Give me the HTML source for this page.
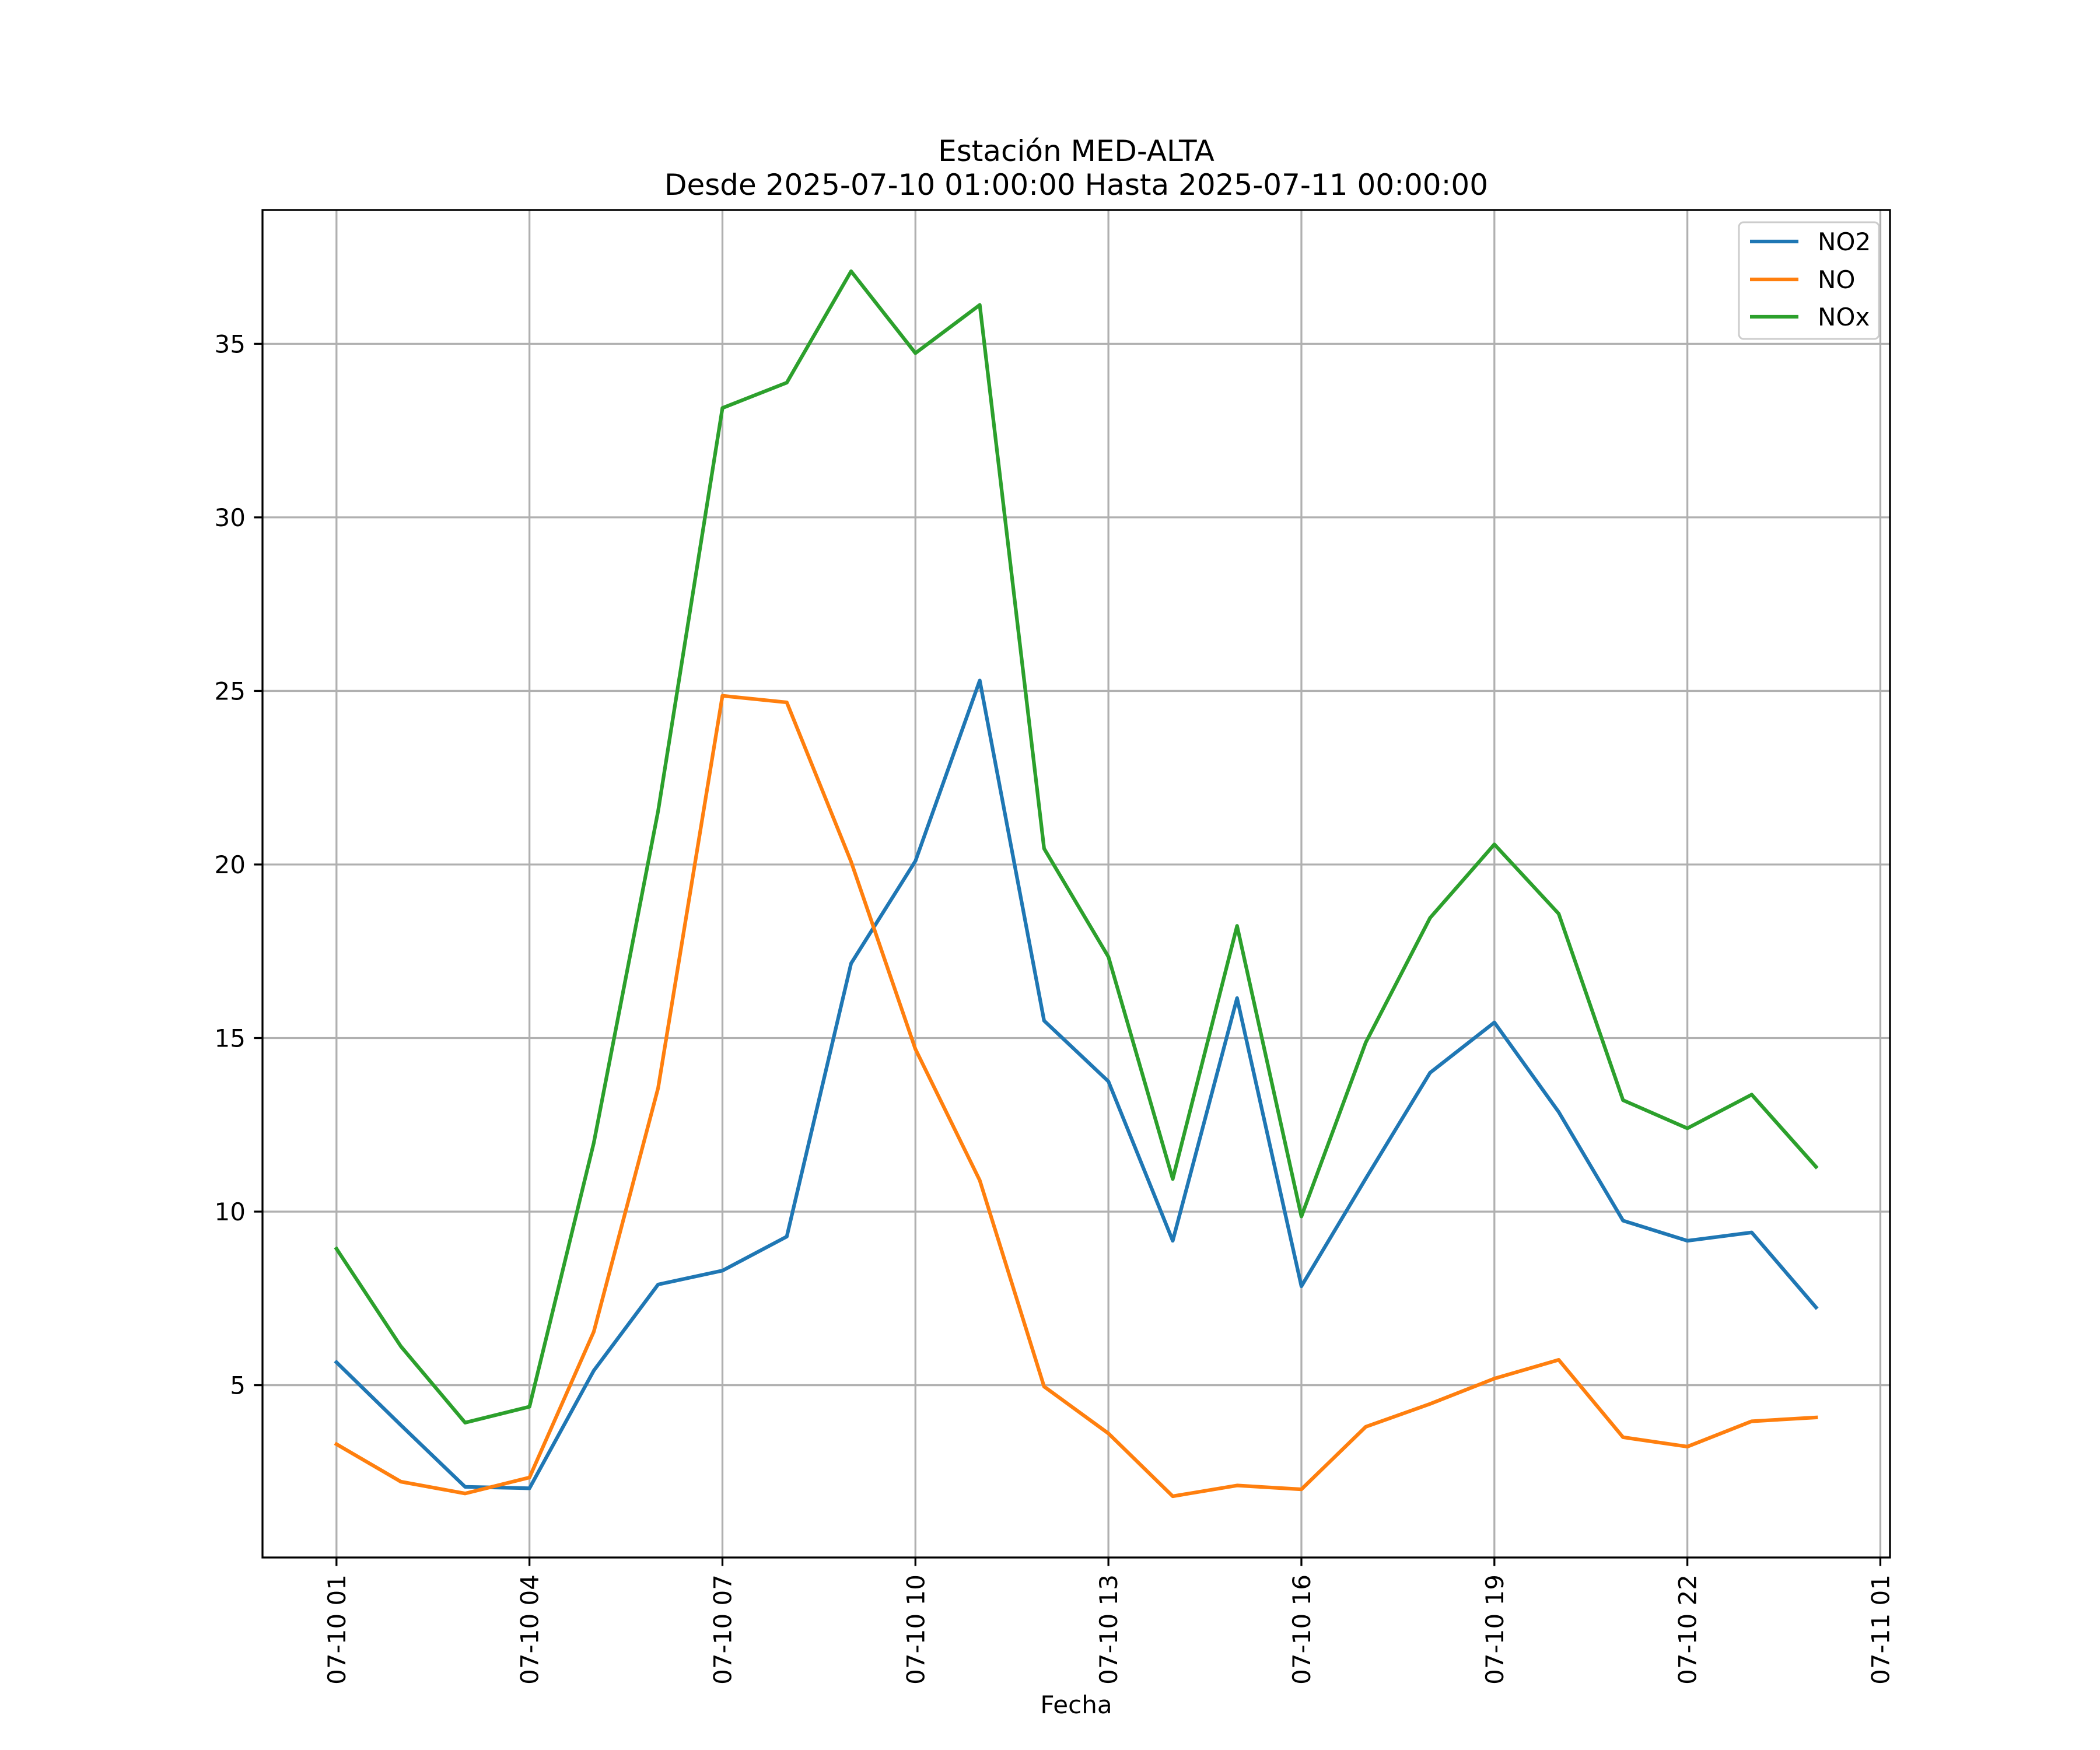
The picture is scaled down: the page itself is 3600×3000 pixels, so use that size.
<!DOCTYPE html>
<html><head><meta charset="utf-8"><style>
html,body{margin:0;padding:0;background:#fff;}
svg{display:block;font-family:"DejaVu Sans","Liberation Sans",sans-serif;}
</style></head><body>
<svg id="chart" width="3600" height="3000" viewBox="0 0 3600 3000" xmlns="http://www.w3.org/2000/svg">
<rect width="3600" height="3000" fill="#fff"/>
<text x="1845" y="276" font-size="50" text-anchor="middle">Estación MED-ALTA</text>
<text x="1845" y="334" font-size="50" text-anchor="middle">Desde 2025-07-10 01:00:00 Hasta 2025-07-11 00:00:00</text>
<g id="grid"></g>
<g id="series"></g>
<rect x="450" y="360" width="2790" height="2310" fill="none" stroke="#000" stroke-width="3.3"/>
<g id="ticks"></g>
<text x="1845" y="2937" font-size="42" text-anchor="middle">Fecha</text>
<g>
<rect x="2981" y="381" width="240" height="200" rx="8" fill="#fff" fill-opacity="0.8" stroke="#ccc" stroke-width="3"/>
<g><line x1="3000" y1="414" x2="3083" y2="414" stroke="#1f77b4" stroke-width="6.25"/><text x="3116" y="429" font-size="42">NO2</text></g>
<g><line x1="3000" y1="479" x2="3083" y2="479" stroke="#ff7f0e" stroke-width="6.25"/><text x="3116" y="494" font-size="42">NO</text></g>
<g><line x1="3000" y1="543" x2="3083" y2="543" stroke="#2ca02c" stroke-width="6.25"/><text x="3116" y="558" font-size="42">NOx</text></g>
</g>
</svg>
<script>
const hours = [1,2,3,4,5,6,7,8,9,10,11,12,13,14,15,16,17,18,19,20,21,22,23,24];
const no2 = [5.66,3.85,2.07,2.03,5.42,7.9,8.3,9.28,17.15,20.1,25.3,15.5,13.75,9.16,16.15,7.85,10.95,14.0,15.45,12.87,9.74,9.16,9.4,7.24];
const no = [3.3,2.22,1.88,2.34,6.54,13.56,24.86,24.67,20.08,14.68,10.9,4.96,3.61,1.8,2.11,2.0,3.8,4.46,5.19,5.73,3.5,3.23,3.96,4.07];
const nox = [8.93,6.12,3.92,4.38,11.98,21.54,33.15,33.88,37.09,34.73,36.12,20.46,17.34,10.94,18.23,9.86,14.87,18.46,20.58,18.58,13.21,12.4,13.37,11.29];
const yTicks = [5,10,15,20,25,30,35];
const xTickHours = [1,4,7,10,13,16,19,22,25];
const xTickLabels = ["07-10 01","07-10 04","07-10 07","07-10 10","07-10 13","07-10 16","07-10 19","07-10 22","07-11 01"];

const NS="http://www.w3.org/2000/svg";
const L=450,R=3240,T=360,B=2670;
const hMin=Math.min(...hours),hMax=Math.max(...hours),hm=(hMax-hMin)*0.05;
const all=no2.concat(no,nox);
const vMin=Math.min(...all),vMax=Math.max(...all),vm=(vMax-vMin)*0.05;
const x0=hMin-hm,x1=hMax+hm,y0=vMin-vm,y1=vMax+vm;
const X=h=>L+(h-x0)*(R-L)/(x1-x0);
const Y=v=>B-(v-y0)*(B-T)/(y1-y0);
function mk(tag,attrs,parent){const e=document.createElementNS(NS,tag);for(const k in attrs)e.setAttribute(k,attrs[k]);parent.appendChild(e);return e;}
const grid=document.getElementById('grid'),ticks=document.getElementById('ticks'),series=document.getElementById('series');
xTickHours.forEach((h,i)=>{
  const x=X(h);
  const g=mk('line',{x1:x,y1:T,x2:x,y2:B,stroke:'#b0b0b0','stroke-width':3.3},grid);
  
  
  const t=mk('line',{x1:x,y1:B,x2:x,y2:B+14.6,stroke:'#000','stroke-width':3.3},ticks);
  
  
  const lb=mk('text',{x:0,y:0,'font-size':42,'text-anchor':'end',transform:`translate(${x+15},${B+29}) rotate(-90)`},ticks);
  lb.textContent=xTickLabels[i];
  
  
});
yTicks.forEach(v=>{
  const y=Y(v);
  const g=mk('line',{x1:L,y1:y,x2:R,y2:y,stroke:'#b0b0b0','stroke-width':3.3},grid);
  
  
  const t=mk('line',{x1:L-14.6,y1:y,x2:L,y2:y,stroke:'#000','stroke-width':3.3},ticks);
  
  
  const lb=mk('text',{x:L-29,y:y+15,'font-size':42,'text-anchor':'end'},ticks);
  lb.textContent=v;
  
  
});
[[no2,'#1f77b4','line-no2'],[no,'#ff7f0e','line-no'],[nox,'#2ca02c','line-nox']].forEach(([d,c,n])=>{
  const p=mk('polyline',{points:d.map((v,i)=>X(hours[i])+','+Y(v)).join(' '),fill:'none',stroke:c,'stroke-width':6.25,'stroke-linejoin':'round','stroke-linecap':'square'},series);
  
  
});
</script>
</body></html>
